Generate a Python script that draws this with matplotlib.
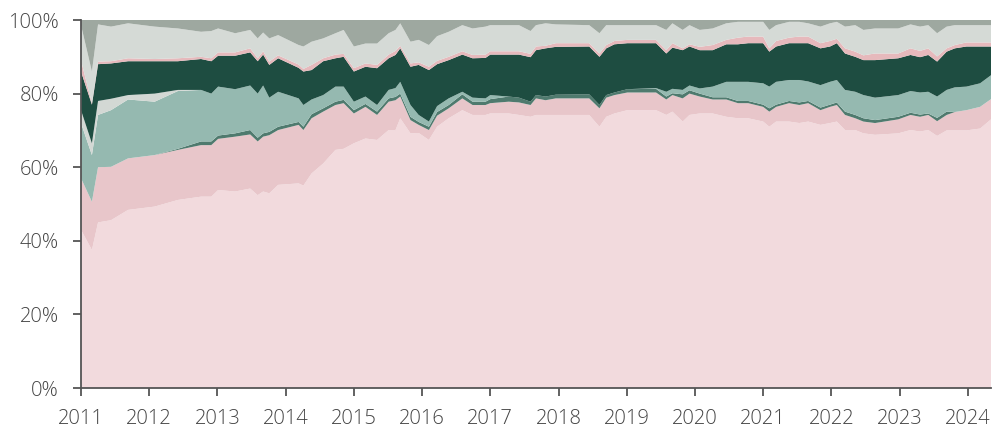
import matplotlib
matplotlib.use("Agg")
import matplotlib.pyplot as plt
import numpy as np

# decimal year of each reading
years = [2011.00, 2011.16, 2011.25, 2011.44, 2011.69, 2012.08, 2012.42, 2012.76, 2012.91,
         2013.01, 2013.26, 2013.48, 2013.59, 2013.67, 2013.76, 2013.89, 2014.19, 2014.26,
         2014.38, 2014.55, 2014.73, 2014.85, 2015.00, 2015.17, 2015.34, 2015.51, 2015.61,
         2015.68, 2015.83, 2015.95, 2016.10, 2016.22, 2016.39, 2016.59, 2016.74, 2016.93,
         2017.00, 2017.27, 2017.42, 2017.59, 2017.67, 2017.81, 2017.96, 2018.45, 2018.60,
         2018.70, 2018.82, 2019.01, 2019.43, 2019.58, 2019.67, 2019.82, 2019.92, 2020.07,
         2020.26, 2020.46, 2020.63, 2020.78, 2021.00, 2021.09, 2021.19, 2021.38, 2021.53,
         2021.66, 2021.84, 2021.98, 2022.08, 2022.20, 2022.35, 2022.47, 2022.64, 2022.98,
         2023.16, 2023.30, 2023.42, 2023.55, 2023.69, 2023.81, 2023.98, 2024.18, 2024.34]

# shares in percent, bottom layer first
light_pink = [43, 37.5, 45, 45.6, 48.4, 49.3, 51.1, 52, 52,
              53.8, 53.4, 54.2, 52.4, 53.4, 52.9, 55.2, 55.6, 55,
              58.3, 61, 64.7, 65, 66.5, 67.8, 67.4, 70.1, 70.1,
              73.3, 69.2, 69.3, 67.4, 71, 73.3, 75.5, 74.2, 74.2,
              74.6, 74.6, 74.2, 73.7, 74.2, 74.2, 74.2, 74.2, 71,
              73.7, 74.6, 75.5, 75.5, 74.2, 75.1, 72.4, 74.2, 74.6,
              74.6, 73.7, 73.3, 73.3, 72.4, 71, 72.4, 72.4, 72,
              72.4, 71.5, 72, 72.4, 70.1, 70.1, 69.2, 68.8, 69.2,
              70.1, 69.7, 70.1, 68.5, 70, 70, 70, 70.5, 73]
mid_pink = [14, 13.1, 15, 14.5, 14, 14, 13.6, 14, 14,
            13.9, 14.9, 14.7, 14.6, 14.9, 15.8, 14.9, 15.9, 15.1,
            15, 14.1, 12.2, 12.4, 8.1, 8.6, 6.8, 7.7, 8.1,
            5.9, 3.6, 2.2, 2.7, 3, 2.7, 3.2, 2.7, 2.7,
            2.8, 3.2, 3.4, 3.2, 4.5, 4, 4.5, 4.5, 5,
            5.2, 5, 4.8, 4.8, 4.2, 4.5, 6.3, 5.8, 4.6,
            3.8, 4.7, 4.1, 4.1, 4, 4.1, 4, 5, 4.9,
            5, 4, 4.4, 4.5, 4.1, 3.2, 3.2, 3.2, 3.8,
            4.1, 4, 4.1, 4, 4.2, 5, 5.5, 5.9, 5.5]
dark_teal = [0, 0, 0, 0, 0, 0, 0.3, 1, 1,
             0.9, 0.9, 1.2, 1, 0.9, 0.9, 0.9, 0.8, 0.9,
             1.1, 0.9, 0.9, 0.9, 0.9, 0.8, 0.9, 0.9, 0.9,
             0.8, 0.9, 0.8, 0.9, 1, 0.9, 1.1, 0.9, 0.9,
             1.1, 1.4, 1.3, 0.9, 0.9, 1, 1, 1.1, 0.9,
             0.7, 0.7, 0.9, 1, 0.8, 0.5, 1.1, 0.9, 0.8,
             0.6, 0.6, 0.6, 0.6, 0.6, 0.9, 0.6, 0.6, 0.7,
             0.6, 0.7, 0.6, 0.7, 0.9, 0.9, 0.9, 0.8, 0.7,
             0.6, 0.6, 0.4, 0.9, 0.9, 0, 0, 0, 0]
light_teal = [15, 12.7, 14.2, 15.4, 16, 14.5, 15.7, 14, 13,
              13.3, 12, 12.1, 12, 13, 9.3, 9.5, 6.4, 5.9,
              4, 3.6, 4.1, 3.6, 2.3, 2, 1.8, 2.3, 2.4,
              3.2, 3.2, 1.9, 1.4, 1.6, 1.8, 0.7, 1.1, 0.9,
              1.1, 0, 0, 0, 0, 0, 0, 0, 0,
              0, 0, 0, 0.2, 1.3, 1.2, 1.2, 1.3, 1.4,
              2.9, 4.2, 5.2, 5.2, 5.8, 5.9, 6.2, 5.7, 6.1,
              5.3, 6.1, 6.2, 6.1, 5.9, 6.3, 6.3, 6.1, 5.9,
              5.9, 6, 5.9, 5.8, 5.9, 6.7, 6.4, 6.4, 6.5]
mid_grey = [3.5, 3.2, 3.8, 3.1, 1.2, 2.2, 0.3, 0, 0] + [0] * 72
dark_green = [10.5, 10.5, 10, 9.6, 9.2, 8.8, 7.8, 8.4, 8.8,
              8.4, 9.1, 9, 8.8, 8.4, 8.9, 9.1, 8.3, 9.1,
              8, 9.2, 7.7, 8.1, 8.2, 8.1, 10, 8.6, 9,
              9.1, 10.4, 13.6, 14, 11.4, 10.4, 10.1, 10.7, 11,
              11, 11.4, 11.7, 12.1, 12.2, 13.1, 13, 13, 13.1,
              12.7, 13.1, 12.5, 12.2, 10.4, 11.2, 10.8, 10.6, 10.4,
              9.9, 10.2, 10.2, 10.5, 10.9, 9.5, 9.6, 10, 10,
              10.4, 10, 9.6, 10, 9.9, 9.5, 9.5, 10.2, 10,
              9.8, 9.6, 10, 9.5, 10.4, 10.6, 10.9, 10, 7.8]
pink = [3, 0.4, 0.7, 0.6, 0.8, 0.6, 0.8, 0.6, 0.8,
        0.9, 0.9, 1.1, 0.8, 0.9, 0.9, 0.8, 0.9, 0.7,
        1.4, 0.8, 1, 0.8, 0.9, 0.9, 0.9, 1, 1.1,
        0.7, 0.9, 0.7, 0.9, 0.9, 0.9, 0.9, 0.9, 0.9,
        0.9, 0.9, 0.9, 0.9, 1, 0.7, 1, 0.9, 0.9,
        0.9, 0.9, 0.9, 0.9, 0.9, 1.2, 0.5, 0.6, 0.9,
        1.4, 1.2, 1.8, 1.8, 1.8, 0.9, 1.5, 1.5, 1.8,
        1.8, 1.4, 1.5, 1.2, 1.4, 1.4, 1.3, 1.8, 1.3,
        1.8, 1.7, 1.8, 1.4, 0.9, 0.9, 1.1, 1.1, 1.1]
light_grey = [9.6, 8.6, 10.1, 9.4, 9.5, 8.8, 8.1, 6.8, 7.4,
              6.5, 5.2, 5, 5.4, 5.1, 6.3, 5.5, 5.3, 6.1,
              6.3, 5.4, 5.8, 6.5, 5.9, 5.4, 5.8, 5.8, 5.7,
              6.1, 5.9, 6.1, 5.9, 6.7, 6.8, 7.1, 7.2, 7.6,
              7.1, 7.1, 7.1, 6.2, 5.8, 6.1, 5.1, 4.9, 5.5,
              5.4, 4.3, 4, 4, 5.5, 5.4, 5, 5.2, 4.6,
              4.5, 4.5, 4.3, 4, 4, 5, 4.3, 4.3, 4,
              3.6, 4.5, 4.8, 4.6, 5.9, 7.2, 6.9, 6.8, 6.8,
              6.5, 6.6, 6.3, 6.3, 5.9, 5.4, 4.7, 4.7, 4.7]
grey = [1.4, 14, 1.2, 1.8, 0.9, 1.8, 2.3, 3.2, 3,
        2.3, 3.6, 2.7, 5, 3.4, 5, 4.1, 6.8, 7.2,
        5.9, 5, 3.6, 2.7, 7.2, 6.4, 6.4, 3.6, 2.7,
        0.9, 5.9, 5.4, 6.8, 4.4, 3.2, 1.4, 2.3, 1.8,
        1.4, 1.4, 1.4, 3, 1.4, 0.9, 1.2, 1.4, 3.6,
        1.4, 1.4, 1.4, 1.4, 2.7, 0.9, 2.7, 1.4, 2.7,
        2.3, 0.9, 0.5, 0.5, 0.5, 2.7, 1.4, 0.5, 0.5,
        0.9, 1.8, 0.9, 0.5, 1.8, 1.4, 2.7, 2.3, 2.3,
        1.2, 1.8, 1.4, 3.6, 1.8, 1.4, 1.4, 1.4, 1.4]

layers = [light_pink, mid_pink, dark_teal, light_teal, mid_grey,
          dark_green, pink, light_grey, grey]
colours = ['#f2dadd', '#e8c6ca', '#4f7a6e', '#95b9b0', '#d3d8d4',
           '#1e4d41', '#e6b9bc', '#d5dad6', '#9ea8a0']

year_ticks = list(range(2011, 2025))
pct_ticks = [0, 20, 40, 60, 80, 100]

fig = plt.figure(figsize=(9.92, 4.30), dpi=100)
ax = fig.add_axes([81 / 992, 42 / 430, 910 / 992, 368 / 430])

ax.stackplot(years, *layers, colors=colours, linewidth=0)

ax.set_xlim(2011, 2024.34)
ax.set_ylim(0, 100)
ax.set_xticks(year_ticks)
ax.set_xticklabels([str(y) for y in year_ticks])
ax.set_yticks(pct_ticks)
ax.set_yticklabels([f"{p}%" for p in pct_ticks])

for side in ['top', 'right']:
    ax.spines[side].set_visible(False)
for side in ['left', 'bottom']:
    ax.spines[side].set_color('#555555')
    ax.spines[side].set_linewidth(1.3)

ax.tick_params(axis='both', direction='out', length=6, width=1.3, color='#555555',
               labelsize=14.5, labelcolor='#444444')
ax.tick_params(axis='y', pad=10)
ax.tick_params(axis='x', pad=9)
for lab in ax.get_xticklabels() + ax.get_yticklabels():
    lab.set_fontfamily(['Open Sans', 'DejaVu Sans'])
    lab.set_fontweight('light')

fig.savefig('out.png', dpi=100)
